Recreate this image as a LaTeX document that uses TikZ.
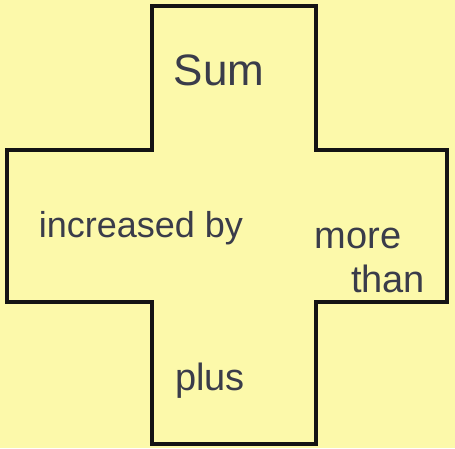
\documentclass[tikz,border=0pt]{standalone}
\usepackage{fontspec}
\setmainfont{Liberation Sans}
\usepackage{xcolor}
\usetikzlibrary{positioning}
\definecolor{notepaper}{RGB}{252,249,170}
\definecolor{penink}{RGB}{58,60,74}
\definecolor{outline}{RGB}{20,20,20}

\begin{document}
\begin{tikzpicture}[
  x=1pt, y=-1pt,
  crossline/.style={draw=outline, line width=4pt, line join=miter},
  word/.style={text=penink, font=\fontsize{38}{40}\selectfont, inner sep=0pt, anchor=base}
]

% Paper background and margins
\fill[notepaper] (0,0) rectangle (455,448);
\useasboundingbox (0,0) rectangle (455,448);

% Cross outline
\draw[crossline] (152,6) -- (316,6) -- (316,150) -- (447,150) -- (447,302)
  -- (316,302) -- (316,444) -- (152,444) -- (152,302) -- (7,302)
  -- (7,150) -- (152,150) -- cycle;

% Words in the arms
\node[word, font=\fontsize{44}{46}\selectfont] (sum) at (219,85) {Sum};
\node[word, font=\fontsize{36}{38}\selectfont] (increased) at (141,237) {increased by};
\node[word] (more) at (358,248) {more};
\node[word] (than) at (388,292) {than};
\node[word] (plus) at (210,390) {plus};

\end{tikzpicture}
\end{document}
